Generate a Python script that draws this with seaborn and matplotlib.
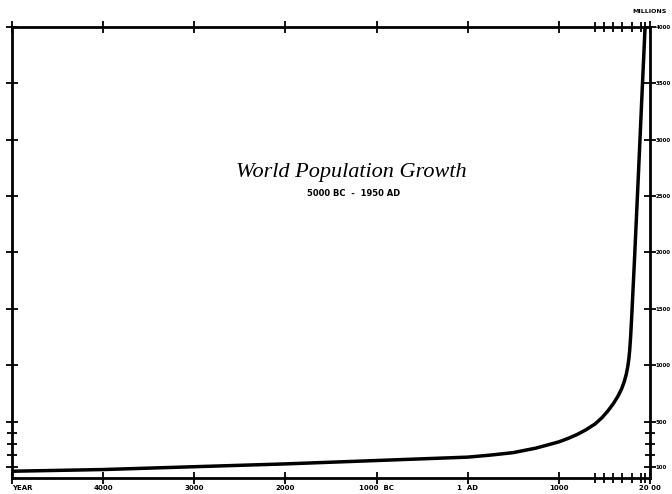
import pandas as pd
import matplotlib
matplotlib.use("Agg")
import matplotlib.pyplot as plt
import seaborn as sns


# World population growth, 5000 BC - 1950 AD

years = [-5000, -4000, -3000, -2000, -1000, 1, 250, 500, 750, 1000, 1100,
         1200, 1300, 1400, 1475, 1540, 1600, 1650, 1690, 1720, 1742, 1758,
         1770, 1780, 1790, 1800, 1830, 1870, 1920, 1948]
population = [60, 75, 100, 125, 155, 185, 203, 225, 265, 320, 350,
              385, 428, 480, 535, 595, 660, 725, 790, 856, 922, 988,
              1058, 1143, 1263, 1413, 1908, 2608, 3508, 4000]

x_ticks = [-5000, -4000, -3000, -2000, -1000, 1, 1000, 2000]
x_labels = ["YEAR", "4000", "3000", "2000", "1000  BC", "1  AD", "1000", "20 00"]
x_minor = [1400, 1500, 1600, 1700, 1800, 1900, 1950]

y_ticks = [100, 500, 1000, 1500, 2000, 2500, 3000, 3500, 4000]
y_labels = ["100", "500", "1000", "1500", "2000", "2500", "3000", "3500", "4000"]
y_minor = [200, 300, 400]

pop_df = pd.DataFrame({"year": years, "population": population})

sns.set_style("white")
plt.rcParams["font.family"] = ["DejaVu Sans"]
plt.rcParams["text.color"] = "black"
plt.rcParams["xtick.labelcolor"] = "black"
plt.rcParams["ytick.labelcolor"] = "black"

fig = plt.figure(figsize=(6.72, 4.94), dpi=100)
ax = fig.add_axes([0.018, 0.0324, 0.949, 0.913])

sns.lineplot(data=pop_df, x="year", y="population", color="black",
             linewidth=2.5, ax=ax)

ax.set_xlim(-5000, 2000)
ax.set_ylim(0, 4000)
ax.set_xlabel("")
ax.set_ylabel("")

for side in ["left", "right", "top", "bottom"]:
    ax.spines[side].set_visible(True)
    ax.spines[side].set_color("black")
    ax.spines[side].set_linewidth(2)

ax.set_xticks(x_ticks)
ax.set_xticklabels(x_labels, fontsize=5, fontweight="bold", color="black")
ax.set_xticks(x_minor, minor=True)
ax.set_yticks(y_ticks)
ax.set_yticklabels(y_labels, fontsize=4, fontweight="bold", color="black")
ax.set_yticks(y_minor, minor=True)

ax.tick_params(axis="both", which="both", direction="inout", color="black",
               width=1.3, top=True, bottom=True, left=True, right=True,
               labelleft=False, labeltop=False, labelright=True, labelbottom=True)
ax.tick_params(axis="both", which="major", length=8)
ax.tick_params(axis="both", which="minor", length=7)
ax.tick_params(axis="x", pad=1)
ax.tick_params(axis="y", pad=0)

ax.get_xticklabels()[0].set_horizontalalignment("left")

fig.text(0.966, 0.976, "MILLIONS", fontsize=4.5, fontweight="bold",
         ha="center", va="center", color="black")

fig.text(0.523, 0.650, "World Population Growth", fontsize=16,
         fontstyle="italic", family=["Liberation Serif", "DejaVu Serif"],
         ha="center", va="center", color="black")
fig.text(0.526, 0.609, "5000 BC  -  1950 AD", fontsize=6, fontweight="bold",
         ha="center", va="center", color="black")

plt.savefig("out.png", dpi=100)
